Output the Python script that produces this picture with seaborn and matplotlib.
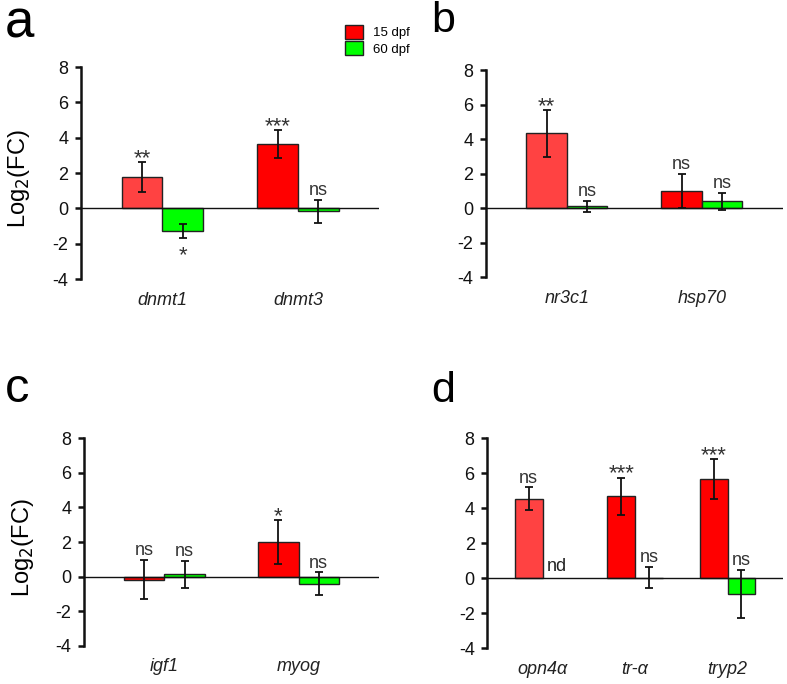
import pandas as pd
import matplotlib
matplotlib.use("Agg")
import matplotlib.pyplot as plt
import seaborn as sns

# values (log2 fold change, mean +/- error)
genes_a = ["dnmt1", "dnmt3"]
mean15_a = [1.77, 3.65]
err15_a = [0.87, 0.77]
mean60_a = [-1.28, -0.17]
err60_a = [0.38, 0.64]
sig15_a = ["**", "***"]
sig60_a = ["*", "ns"]

genes_b = ["nr3c1", "hsp70"]
mean15_b = [4.33, 1.0]
err15_b = [1.37, 0.98]
mean60_b = [0.09, 0.38]
err60_b = [0.31, 0.48]
sig15_b = ["**", "ns"]
sig60_b = ["ns", "ns"]

genes_c = ["igf1", "myog"]
mean15_c = [-0.18, 2.0]
err15_c = [1.13, 1.27]
mean60_c = [0.13, -0.41]
err60_c = [0.8, 0.65]
sig15_c = ["ns", "*"]
sig60_c = ["ns", "ns"]

genes_d = ["opn4α", "tr-α", "tryp2"]
mean15_d = [4.53, 4.68, 5.65]
err15_d = [0.65, 1.06, 1.15]
mean60_d = [None, 0.03, -0.92]
err60_d = [None, 0.58, 1.36]
sig15_d = ["ns", "***", "***"]
sig60_d = ["nd", "ns", "ns"]

ages = ["15 dpf", "60 dpf"]

RED = "#ff0000"
LIGHT_RED = "#ff4242"
GREEN = "#00ff00"

plt.rcParams["font.family"] = ["Liberation Sans", "DejaVu Sans"]
plt.rcParams["axes.unicode_minus"] = False


def make_df(genes, m15, e15, m60, e60, s15, s60):
    rows = []
    for i, g in enumerate(genes):
        rows.append(dict(gene=g, age=ages[0], fc=m15[i], err=e15[i], sig=s15[i]))
        rows.append(dict(gene=g, age=ages[1], fc=m60[i], err=e60[i], sig=s60[i]))
    df = pd.DataFrame(rows)
    df["fc"] = df["fc"].astype(float)
    df["err"] = df["err"].astype(float)
    return df


panels = [
    ("a", make_df(genes_a, mean15_a, err15_a, mean60_a, err60_a, sig15_a, sig60_a),
     [0.103, 0.592, 0.379, 0.310], True, True),
    ("b", make_df(genes_b, mean15_b, err15_b, mean60_b, err60_b, sig15_b, sig60_b),
     [0.6175, 0.595, 0.377, 0.3026], False, True),
    ("c", make_df(genes_c, mean15_c, err15_c, mean60_c, err60_c, sig15_c, sig60_c),
     [0.1067, 0.0556, 0.375, 0.304], True, False),
    ("d", make_df(genes_d, mean15_d, err15_d, mean60_d, err60_d, sig15_d, sig60_d),
     [0.619, 0.0526, 0.376, 0.307], False, True),
]

# annotations placed below the bar instead of above
below = {("a", "dnmt1", "60 dpf")}


def sig_label(ax, text, x, y, under=False):
    star = text.startswith("*")
    size = 16 if star else 13
    if under:
        off = -17
    else:
        off = -1.5 if star else 3.5
    ax.annotate(text, (x, y), xytext=(0, off), textcoords="offset points",
                ha="center", va="baseline", fontsize=size, color="#333333")


fig = plt.figure(figsize=(7.87, 6.84), dpi=100)

for name, df, rect, ylab, first_light in panels:
    ax = fig.add_axes(rect)
    genes = list(df["gene"].unique())
    sns.barplot(data=df.dropna(subset=["fc"]), x="gene", y="fc", hue="age",
                order=genes, hue_order=ages, palette=[RED, GREEN], saturation=1,
                width=0.6, gap=0, errorbar=None, edgecolor="#222222",
                linewidth=1, legend=(name == "a"), ax=ax, zorder=2)

    bars = [[b for b in cont if b is not None] for cont in ax.containers]
    if first_light:
        bars[0][0].set_facecolor(LIGHT_RED)

    for k, cont in enumerate(bars):
        for bar in cont:
            xc = bar.get_x() + bar.get_width() / 2
            gi = int(round(xc))
            row = df[(df["gene"] == genes[gi]) & (df["age"] == ages[k])].iloc[0]
            ax.errorbar(xc, row["fc"], yerr=row["err"], fmt="none", ecolor="#111111",
                        elinewidth=1.3, capsize=2.7, capthick=1.3, zorder=3)
            if (name, row["gene"], row["age"]) in below:
                sig_label(ax, row["sig"], xc, row["fc"] - row["err"], under=True)
            else:
                sig_label(ax, row["sig"], xc, row["fc"] + row["err"])

    # "not detected" label
    for _, row in df[df["fc"].isna()].iterrows():
        gi = genes.index(row["gene"])
        ax.annotate(row["sig"], (gi + 0.15, 0), xytext=(0, 2), textcoords="offset points",
                    ha="center", va="bottom", fontsize=13, color="#222222")

    ax.axhline(0, color="#111111", lw=1, zorder=4)
    ax.set_ylim(-4, 8)
    ax.set_yticks(range(-4, 9, 2))
    ax.set_xlim(-0.6, len(genes) - 1 + 0.6)
    ax.set_xlabel("")
    ax.set_ylabel("")
    for s in ["top", "right", "bottom"]:
        ax.spines[s].set_visible(False)
    ax.spines["left"].set_linewidth(1.8)
    ax.spines["left"].set_color("#111111")
    ax.tick_params(axis="y", length=4, width=1.8, pad=5, labelsize=13, colors="#111111")
    ax.tick_params(axis="x", length=0, pad=9, labelsize=13)
    for t in ax.get_xticklabels():
        t.set_style("italic")
        t.set_color("#222222")
    ax.set_facecolor("none")
    if ylab:
        ax.set_ylabel("Log$_2$(FC)", fontsize=17)
        ax.yaxis.set_label_coords(-0.163, 0.475)
    if name == "a":
        sns.move_legend(ax, "upper left", bbox_to_anchor=(345 / 787, 1 - 25 / 684),
                        bbox_transform=fig.transFigure, frameon=False, title=None,
                        fontsize=9.5, handlelength=1.35, handleheight=1.25,
                        handletextpad=0.8, labelspacing=0.15, borderpad=0,
                        borderaxespad=0)

fig.text(5 / 787, 1 - 38 / 684, "a", fontsize=38, va="baseline")
fig.text(431 / 787, 1 - 32 / 684, "b", fontsize=31, va="baseline")
fig.text(5 / 787, 1 - 402 / 684, "c", fontsize=35, va="baseline")
fig.text(431 / 787, 1 - 402 / 684, "d", fontsize=31, va="baseline")

fig.savefig("out.png", dpi=100)
